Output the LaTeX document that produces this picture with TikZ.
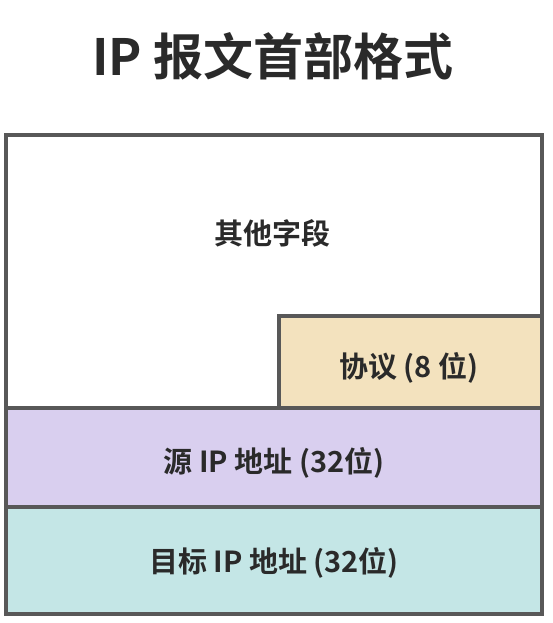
\documentclass[tikz,border=0pt]{standalone}
\usepackage{fontspec}
\setmainfont{Noto Sans CJK SC}[BoldFont={Noto Sans CJK SC Bold}]
\definecolor{frame}{HTML}{585858}
\definecolor{txt}{HTML}{2A2A2A}
\definecolor{protofill}{HTML}{F3E2BE}
\definecolor{srcfill}{HTML}{D9CFEF}
\definecolor{dstfill}{HTML}{C4E6E6}
\begin{document}
\begin{tikzpicture}[x=1pt,y=-1pt,
  fieldbox/.style={draw=frame, line width=4pt, rectangle, inner sep=0pt, outer sep=0pt},
  lbl/.style={anchor=base, text=txt, font=\bfseries\fontsize{29}{29}\selectfont, inner sep=0pt},
  ttl/.style={anchor=base, text=txt, font=\bfseries\fontsize{50}{50}\selectfont, inner sep=0pt}]
\useasboundingbox[fill=white] (0,0) rectangle (552,623);
\node[ttl] (title) at (273,75.5) {IP 报文首部格式};
\node[fieldbox, fill=white, minimum width=536pt, minimum height=273.5pt] (other) at (274,271.25) {};
\node[fieldbox, fill=protofill, minimum width=263.3pt, minimum height=92pt] (proto) at (410.35,362) {};
\node[fieldbox, fill=srcfill, minimum width=536pt, minimum height=99pt] (src) at (274,457.5) {};
\node[fieldbox, fill=dstfill, minimum width=536pt, minimum height=107pt] (dst) at (274,560.5) {};
\node[lbl] (otherlbl) at (272,244) {其他字段};
\node[lbl] (protolbl) at (409,377) {协议 (8 位)};
\node[lbl] (srclbl) at (274,472) {源 IP 地址 (32位)};
\node[lbl] (dstlbl) at (274,572) {目标 IP 地址 (32位)};
\end{tikzpicture}
\end{document}
